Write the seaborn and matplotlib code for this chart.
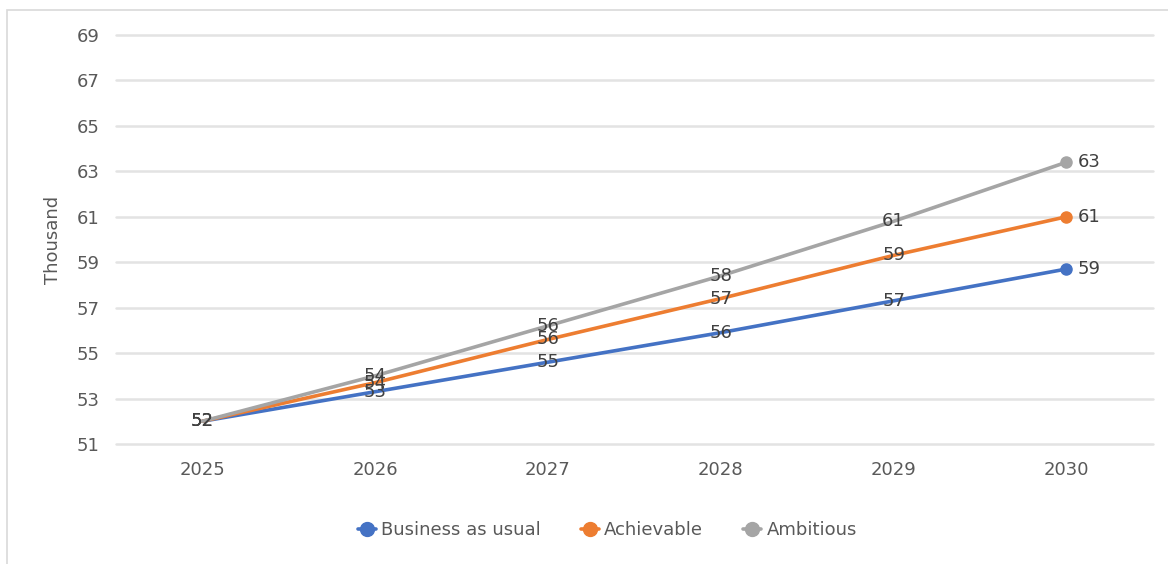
import matplotlib
matplotlib.use("Agg")
import matplotlib.pyplot as plt
from matplotlib.patches import Rectangle
from matplotlib.lines import Line2D
import seaborn as sns
import pandas as pd

years = ["2025", "2026", "2027", "2028", "2029", "2030"]
business_as_usual = [52.0, 53.3, 54.6, 55.9, 57.3, 58.7]
achievable = [52.0, 53.7, 55.6, 57.4, 59.3, 61.0]
ambitious = [52.0, 54.0, 56.2, 58.4, 60.8, 63.4]
series_names = ["Business as usual", "Achievable", "Ambitious"]
colors = ["#4472C4", "#ED7D31", "#A5A5A5"]
y_ticks = [51, 53, 55, 57, 59, 61, 63, 65, 67, 69]

sns.set_theme(style="white")
plt.rcParams["font.family"] = ["DejaVu Sans"]

text_color = "#595959"
label_color = "#404040"
fs = 13

rows = []
for name, vals in zip(series_names, [business_as_usual, achievable, ambitious]):
    for i, (yr, v) in enumerate(zip(years, vals)):
        rows.append({"year": yr, "pos": i, "value": v, "series": name})
df = pd.DataFrame(rows)

fig = plt.figure(figsize=(11.68, 5.64), dpi=100)
ax = fig.add_axes([0.0993, 0.2128, 0.8877, 0.7252])

palette = dict(zip(series_names, colors))
sns.lineplot(data=df, x="pos", y="value", hue="series", palette=palette,
             linewidth=2.6, ax=ax, legend=False, sort=False)

# end-point markers and data labels
for name in series_names:
    sub = df[df["series"] == name]
    last = sub.iloc[-1]
    ax.plot(last["pos"], last["value"], "o", color=palette[name],
            markersize=8, zorder=4)
    for _, r in sub.iterrows():
        txt = f"{r['value']:.0f}"
        if r["pos"] == len(years) - 1:
            ax.annotate(txt, (r["pos"], r["value"]), xytext=(8, 0),
                        textcoords="offset points", ha="left", va="center",
                        fontsize=fs, color=label_color, zorder=5)
        else:
            ax.text(r["pos"], r["value"], txt, ha="center", va="center",
                    fontsize=fs, color=label_color, zorder=5)

ax.set_xlim(-0.5, len(years) - 0.5)
ax.set_ylim(51, 69)
ax.set_yticks(y_ticks)
ax.set_yticklabels([str(t) for t in y_ticks])
ax.set_xticks(range(len(years)))
ax.set_xticklabels(years)
ax.tick_params(axis="both", length=0, labelsize=fs, labelcolor=text_color)
ax.tick_params(axis="y", pad=12)
ax.tick_params(axis="x", pad=12)
ax.grid(axis="y", color="#E3E3E3", linewidth=1.8)
for gl in ax.get_ygridlines():
    gl.set_clip_on(False)
ax.set_axisbelow(True)
for s in ax.spines.values():
    s.set_visible(False)
ax.set_xlabel("")
ax.set_ylabel("Thousand", fontsize=fs, color=text_color, labelpad=10)

handles = [Line2D([0], [0], color=c, linewidth=2.6, marker="o", markersize=10)
           for c in colors]
fig.legend(handles, series_names, loc="center", bbox_to_anchor=(0.52, 0.06),
           ncol=3, frameon=False, fontsize=fs, handlelength=1.0,
           handletextpad=0.3, columnspacing=2.2, labelcolor=text_color)

# chart frame
fig.patches.append(Rectangle((7 / 1168, -0.1), 1.2, 1 - 10 / 564 + 0.1,
                             transform=fig.transFigure, fill=False,
                             edgecolor="#D9D9D9", linewidth=1.2))

fig.savefig("out.png", dpi=100, facecolor="white")
